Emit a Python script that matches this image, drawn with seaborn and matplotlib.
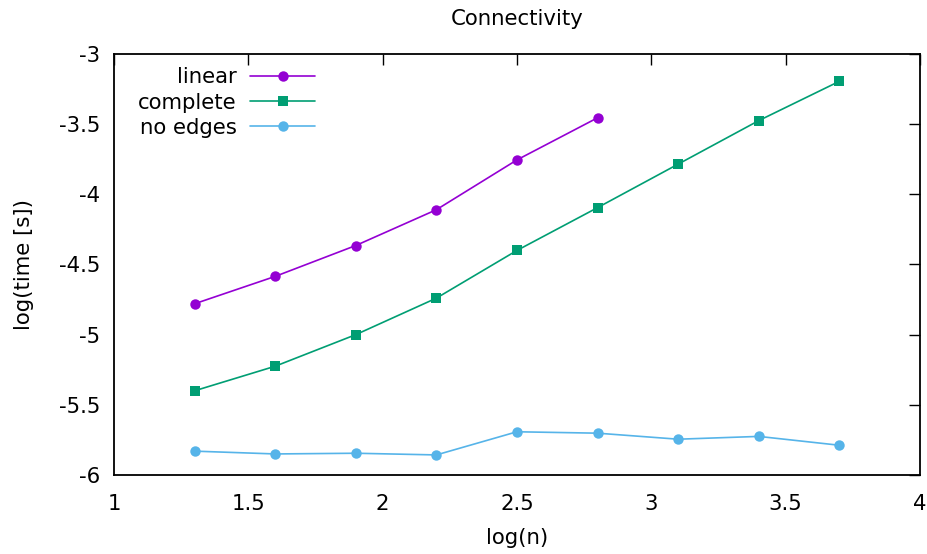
import matplotlib
matplotlib.use("Agg")
import matplotlib.pyplot as plt
from matplotlib.ticker import FormatStrFormatter, MultipleLocator
import seaborn as sns
import pandas as pd

# log10 of problem size and measured runtime for each graph family
n_linear = [1.3, 1.6, 1.9, 2.2, 2.5, 2.8]
t_linear = [-4.78, -4.585, -4.365, -4.11, -3.755, -3.455]

n_complete = [1.3, 1.6, 1.9, 2.2, 2.5, 2.8, 3.1, 3.4, 3.7]
t_complete = [-5.40, -5.225, -5.0, -4.74, -4.40, -4.095, -3.785, -3.475, -3.195]

n_empty = [1.3, 1.6, 1.9, 2.2, 2.5, 2.8, 3.1, 3.4, 3.7]
t_empty = [-5.83, -5.85, -5.845, -5.857, -5.692, -5.702, -5.745, -5.725, -5.788]

series = [
    ("linear", n_linear, t_linear, "#9400D3", "o"),
    ("complete", n_complete, t_complete, "#009E73", "s"),
    ("no edges", n_empty, t_empty, "#56B4E9", "o"),
]

sns.set_style("white")
plt.rcParams["font.family"] = ["DejaVu Sans"]
plt.rcParams["axes.unicode_minus"] = False
plt.rcParams["text.color"] = "black"
plt.rcParams["axes.labelcolor"] = "black"

FS = 15.3

fig = plt.figure(figsize=(9.28, 5.54), dpi=100)
ax = fig.add_axes([0.1228, 0.1426, 0.8685, 0.760])

for name, xs, ys, color, marker in series:
    df = pd.DataFrame({"x": xs, "y": ys})
    sns.lineplot(data=df, x="x", y="y", ax=ax, color=color, marker=marker,
                 markersize=7.5 if marker == "o" else 6.5, markeredgewidth=0,
                 linewidth=1.2, label=name)

ax.set_xlim(1, 4)
ax.set_ylim(-6, -3)
ax.xaxis.set_major_locator(MultipleLocator(0.5))
ax.yaxis.set_major_locator(MultipleLocator(0.5))
ax.xaxis.set_major_formatter(FormatStrFormatter("%g"))
ax.yaxis.set_major_formatter(FormatStrFormatter("%g"))
ax.tick_params(direction="in", length=8, width=1, colors="black",
               labelsize=FS, top=True, right=True)
ax.tick_params(axis="x", pad=14)
ax.tick_params(axis="y", pad=10)

for sp in ax.spines.values():
    sp.set_color("black")
    sp.set_linewidth(1.3)

ax.set_title("Connectivity", fontsize=FS, pad=21, color="black")
ax.set_xlabel("log(n)", fontsize=FS, labelpad=10)
ax.set_ylabel("log(time [s])", fontsize=FS, labelpad=18)

ax.legend(loc="upper left", bbox_to_anchor=(0.006, 1.014), frameon=False,
          markerfirst=False, fontsize=FS, handlelength=3.05,
          handletextpad=0.65, labelspacing=0.25)

fig.savefig("out.png", dpi=100)
